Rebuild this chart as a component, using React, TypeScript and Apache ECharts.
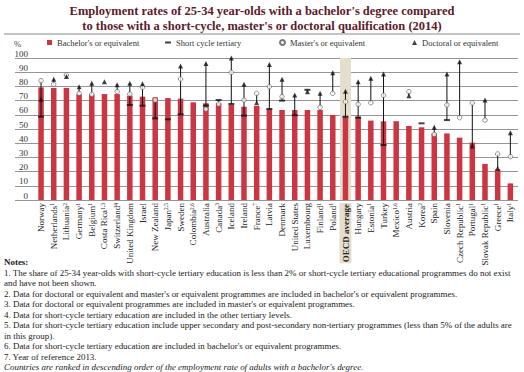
import React, { useEffect, useRef } from 'react';
import * as echarts from 'echarts';

const categories = [
  'Norway', 'Netherlands', 'Lithuania', 'Germany', 'Belgium', 'Costa Rica', 'Switzerland',
  'United Kingdom', 'Israel', 'New Zealand', 'Japan', 'Sweden', 'Colombia', 'Australia',
  'Canada', 'Iceland', 'Ireland', 'France', 'Latvia', 'Denmark', 'United States',
  'Luxembourg', 'Finland', 'Poland', 'OECD average', 'Hungary', 'Estonia', 'Turkey',
  'Mexico', 'Austria', 'Korea', 'Spain', 'Slovenia', 'Czech Republic', 'Portugal',
  'Slovak Republic', 'Greece', 'Italy',
];
const footnotes = [
  '', '1', '2', '1', '1', '1,3', '4', '', '', '', '2,5', '', '2,6', '', '3', '', '', '7', '',
  '', '', '', '1', '1', '', '', '1', '', '1,6', '', '2', '', '', '1', '1', '1', '1', '1',
];
const bachelor = [
  79.3, 78.9, 78.9, 74.4, 74.4, 74.6, 74.6, 73.5, 72.8, 72.3, 71.8, 71.4, 68.8, 68.1,
  68.1, 66.9, 65.7, 66.2, 63.8, 63.4, 63.4, 63.4, 63.4, 59.9, 58.7, 58.7, 55.9, 55.4,
  55.5, 52.1, 51.2, 46.9, 46.9, 43.9, 40.4, 25.4, 21.6, 11.7,
];
const shortCycle: (number | null)[] = [
  58.7, null, null, null, null, null, null, 66.9, 66.4, 57.5, 56.8, 60.3, null, 66.5,
  70.4, 67.6, 59.4, null, 64.1, 70.0, 59.7, 77.6, null, null, 58.7, 58.0, null, 38.7,
  null, null, 54.0, null, 56.3, null, null, null, null, null,
];
const masters: (number | null)[] = [
  84.0, 81.5, 88.0, 75.1, 74.4, null, 76.3, 74.6, 79.4, 70.4, null, 85.2, null, 64.0,
  67.6, 89.9, 70.4, 75.1, 79.8, 72.8, null, null, 65.3, 75.1, 69.2, 67.4, 68.5, 73.7,
  null, 76.3, null, 46.2, 66.9, 58.0, 68.3, 56.3, 32.4, 30.5,
];
const doctoral: (number | null)[] = [
  70.9, 85.0, 86.9, 79.8, 82.2, 83.3, 81.2, 82.2, 81.8, null, null, 94.4, null, 96.2,
  null, 100.0, 81.5, 68.5, 95.5, 85.0, 74.0, 76.2, 75.1, 89.7, 76.5, 83.3, 85.7, 88.7,
  null, 73.5, null, 51.2, 88.7, 97.4, 38.0, 70.4, 22.3, 47.4,
];
const yMin = 0;
const yMax = 100;
const yInterval = 10;

const titleText =
  "Employment rates of 25-34 year-olds with a bachelor's degree compared\nto those with a short-cycle, master's or doctoral qualification (2014)";
const seriesNames = [
  "Bachelor's or equivalent",
  'Short cycle tertiary',
  "Master's or equivalent",
  'Doctoral or equivalent',
];
const noteLines = [
  '1. The share of 25-34 year-olds with short-cycle tertiary education is less than 2% or short-cycle tertiary educational programmes do not exist',
  'and have not been shown.',
  "2. Data for doctoral or equivalent and master's or equivalent programmes are included in bachelor's or equivalent programmes.",
  "3. Data for doctoral or equivalent programmes are included in master's or equivalent programmes.",
  '4. Data for short-cycle tertiary education are included in the other tertiary levels.',
  '5. Data for short-cycle tertiary education include upper secondary and post-secondary non-tertiary programmes (less than 5% of the adults are',
  'in this group).',
  "6. Data for short-cycle tertiary education are included in bachelor's or equivalent programmes.",
  '7. Year of reference 2013.',
];
const rankingNote = "Countries are ranked in descending order of the employment rate of adults with a bachelor's degree.";

const FONT = 'Liberation Serif';
const RED = '#cb3642';
const BAND = '#e6decd';
const NOTE_SIZE = 8.95;

export default function App() {
  const ref = useRef<HTMLDivElement>(null);

  useEffect(() => {
    if (!ref.current) return;
    const chart = echarts.init(ref.current, null, { renderer: 'svg' });

    const ranges = categories
      .map((_, i) => {
        const vals = [shortCycle[i], masters[i], doctoral[i]].filter((v) => v != null) as number[];
        if (vals.length < 2) return null;
        return [i, Math.min(...vals), Math.max(...vals)];
      })
      .filter((d) => d != null);

    const bandData = categories.map((c) => (c === 'OECD average' ? yMax : '-'));

    const noteGraphics: any[] = [
      {
        type: 'text',
        left: 4,
        top: 257.5,
        style: { text: 'Notes:', font: `bold ${NOTE_SIZE}px "${FONT}"`, fill: '#222' },
      },
      ...noteLines.map((t, i) => ({
        type: 'text',
        left: 4,
        top: 268 + i * 10.5,
        style: { text: t, font: `${NOTE_SIZE}px "${FONT}"`, fill: '#222' },
      })),
      {
        type: 'text',
        left: 4,
        top: 268 + noteLines.length * 10.5,
        style: { text: rankingNote, font: `italic ${NOTE_SIZE}px "${FONT}"`, fill: '#222' },
      },
    ];

    const legendBase = {
      top: 38,
      padding: 0,
      itemWidth: 5,
      itemHeight: 5,
      textStyle: { fontFamily: FONT, fontSize: 8.5, color: '#333' },
      selectedMode: false,
    };

    chart.setOption({
      animation: false,
      title: {
        text: titleText,
        left: 'center',
        top: 3,
        padding: 0,
        textStyle: {
          fontFamily: FONT,
          fontWeight: 'bold',
          fontSize: 12.5,
          lineHeight: 15,
          color: '#5c1a2b',
        },
      },
      legend: [
        { ...legendBase, left: 47, data: [{ name: seriesNames[0], icon: 'rect' }] },
        { ...legendBase, left: 165, itemWidth: 6, itemHeight: 2, data: [{ name: seriesNames[1], icon: 'rect' }] },
        { ...legendBase, left: 279, data: [{ name: seriesNames[2], icon: 'circle' }] },
        { ...legendBase, left: 412, data: [{ name: seriesNames[3], icon: 'triangle' }] },
      ],
      graphic: [
        {
          type: 'line',
          shape: { x1: 4, y1: 34, x2: 520, y2: 34 },
          style: { stroke: '#8a8a8a', lineWidth: 1 },
        },
        {
          type: 'text',
          left: 14,
          top: 39,
          style: { text: '%', font: `8.5px "${FONT}"`, fill: '#444' },
        },
        ...noteGraphics,
      ],
      grid: [
        { left: 15, right: 6, top: 58, bottom: 172 },
        { left: 34.7, right: 7.3, top: 58, bottom: 172 },
      ],
      xAxis: [
        { type: 'value', gridIndex: 0, show: false, min: 0, max: 1 },
        {
          type: 'category',
          gridIndex: 1,
          data: categories,
          axisLine: { show: false },
          axisTick: { show: false },
          axisLabel: {
            interval: 0,
            rotate: 90,
            margin: 3,
            fontFamily: FONT,
            fontSize: 9,
            color: '#222',
            formatter: (val: string, idx: number) => {
              if (val === 'OECD average') return `{o|${val}}`;
              return footnotes[idx] ? `{n|${val}}{s|${footnotes[idx]}}` : `{n|${val}}`;
            },
            rich: {
              n: { fontFamily: FONT, fontSize: 9, color: '#222' },
              s: { fontFamily: FONT, fontSize: 5.5, color: '#222', verticalAlign: 'top' },
              o: {
                fontFamily: FONT,
                fontSize: 9,
                fontWeight: 'bold',
                color: '#222',
                backgroundColor: BAND,
                padding: [2, 1, 1, 1],
              },
            },
          },
        },
        { type: 'category', gridIndex: 1, data: categories, show: false },
      ],
      yAxis: [
        {
          type: 'value',
          gridIndex: 0,
          min: yMin,
          max: yMax,
          interval: yInterval,
          axisLine: { show: false },
          axisTick: { show: false },
          axisLabel: {
            margin: -13,
            verticalAlign: 'bottom',
            fontFamily: FONT,
            fontSize: 9,
            color: '#333',
          },
          splitLine: { lineStyle: { color: '#959595', width: 1 } },
        },
        { type: 'value', gridIndex: 1, min: yMin, max: yMax, show: false },
      ],
      series: [
        {
          type: 'bar',
          xAxisIndex: 2,
          yAxisIndex: 1,
          data: bandData,
          barWidth: 11,
          itemStyle: { color: BAND },
          silent: true,
          z: 1,
        },
        {
          name: seriesNames[0],
          type: 'bar',
          xAxisIndex: 1,
          yAxisIndex: 1,
          data: bachelor,
          barWidth: 5.5,
          itemStyle: { color: RED },
          z: 2,
        },
        {
          type: 'custom',
          xAxisIndex: 1,
          yAxisIndex: 1,
          data: ranges,
          encode: { x: 0, y: [1, 2] },
          z: 3,
          renderItem: (_params: any, api: any) => {
            const x = api.value(0);
            const p1 = api.coord([x, api.value(1)]);
            const p2 = api.coord([x, api.value(2)]);
            return {
              type: 'line',
              shape: { x1: p1[0], y1: p1[1], x2: p2[0], y2: p2[1] },
              style: { stroke: '#111', lineWidth: 1 },
            };
          },
        },
        {
          name: seriesNames[1],
          type: 'scatter',
          xAxisIndex: 1,
          yAxisIndex: 1,
          data: shortCycle.map((v) => (v == null ? '-' : v)),
          symbol: 'rect',
          symbolSize: [6, 2],
          itemStyle: { color: '#111' },
          clip: false,
          z: 4,
        },
        {
          name: seriesNames[2],
          type: 'scatter',
          xAxisIndex: 1,
          yAxisIndex: 1,
          data: masters.map((v) => (v == null ? '-' : v)),
          symbol: 'circle',
          symbolSize: 4.5,
          itemStyle: { color: '#fff', borderColor: '#555', borderWidth: 0.8 },
          clip: false,
          z: 5,
        },
        {
          name: seriesNames[3],
          type: 'scatter',
          xAxisIndex: 1,
          yAxisIndex: 1,
          data: doctoral.map((v) => (v == null ? '-' : v)),
          symbol: 'triangle',
          symbolSize: 5,
          itemStyle: { color: '#111' },
          clip: false,
          z: 6,
        },
      ],
    });

    return () => chart.dispose();
  }, []);

  return (
    <div
      ref={ref}
      style={{ position: 'absolute', left: 0, top: 0, width: 524, height: 372, background: '#fff' }}
    />
  );
}
